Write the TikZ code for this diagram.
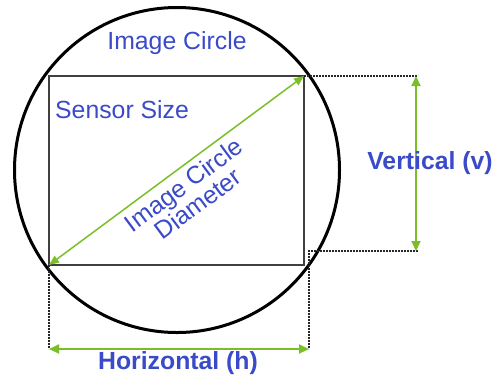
\documentclass[tikz,border=0pt]{standalone}
\usepackage{fontspec}
\setmainfont{Liberation Sans}
\usetikzlibrary{arrows.meta}
\definecolor{lblblue}{RGB}{58,74,200}
\definecolor{dimgreen}{RGB}{122,190,40}
\tikzset{
  lbl/.style={text=lblblue, font=\fontsize{24.8}{24}\selectfont, inner sep=0pt},
  boldlbl/.style={lbl, font=\fontsize{24.8}{24}\selectfont\bfseries},
  dimline/.style={draw=dimgreen, line width=2pt,
    {Triangle[length=10pt,width=9pt]}-{Triangle[length=10pt,width=9pt]}},
  guide/.style={draw=black!85, line width=1.4pt, dash pattern=on 2pt off 1pt}
}
\begin{document}
\begin{tikzpicture}[x=1pt,y=-1pt]
  \useasboundingbox (0,0) rectangle (494,376);
  % image circle and sensor rectangle
  \node[circle, draw=black, line width=3pt, minimum size=325pt, inner sep=0pt, outer sep=0pt] (ic) at (177,170) {};
  \node[draw=black!75, line width=2pt, minimum width=255pt, minimum height=189pt, inner sep=0pt, outer sep=0pt] (sensor) at (176.5,170.5) {};
  % guide coordinates
  \coordinate (topend) at (418,76);
  \coordinate (botcorner) at (309,251);
  \coordinate (botend) at (418,251);
  \coordinate (hleft) at (49,349);
  \coordinate (hright) at (309,349);
  \coordinate (vtop) at (416,76);
  \coordinate (vbot) at (416,251);
  % dashed extension lines
  \draw[guide] (sensor.north east) -- (topend);
  \draw[guide] (botend) -- (botcorner) -- (hright);
  \draw[guide] (sensor.south west) -- (hleft);
  % dimension arrows
  \draw[dimline] (vtop) -- (vbot);
  \draw[dimline] (hleft) -- (hright);
  \draw[draw=dimgreen, line width=1.5pt, {Triangle[length=10pt,width=8pt]}-{Triangle[length=10pt,width=8pt]}]
    (sensor.south west) -- (sensor.north east);
  % labels
  \node[lbl] (ictitle) at (177,43) {Image Circle};
  \node[lbl, anchor=west] (sstitle) at (55,110) {Sensor Size};
  \node[lbl, align=center, anchor=north, rotate=36.5] (diam) at (178,177) {Image Circle\\Diameter};
  \node[boldlbl] (vlabel) at (430,163) {Vertical (v)};
  \node[boldlbl] (hlabel) at (178,363) {Horizontal (h)};
\end{tikzpicture}
\end{document}
